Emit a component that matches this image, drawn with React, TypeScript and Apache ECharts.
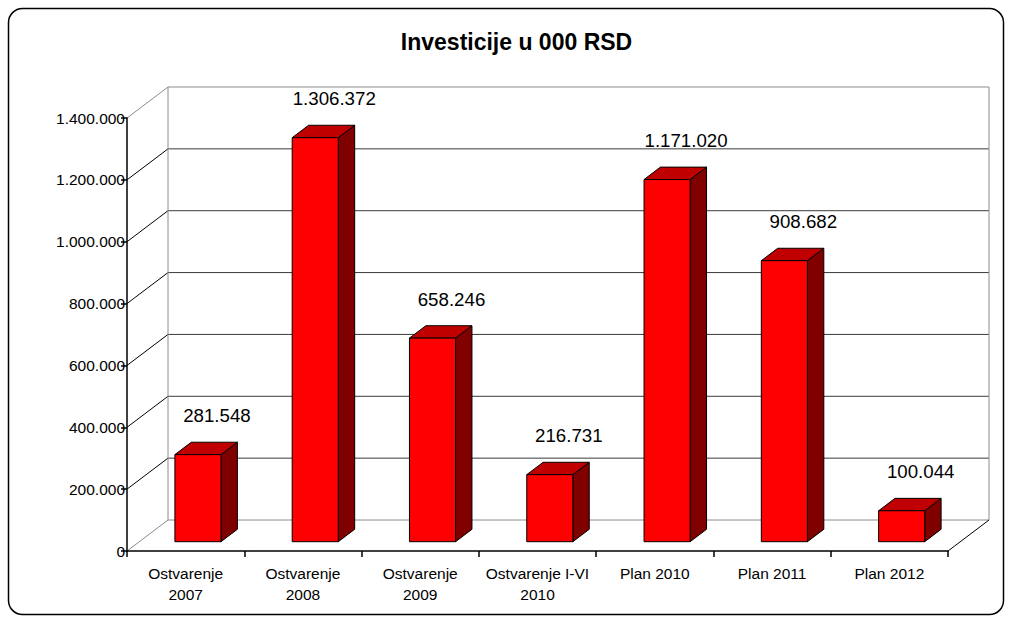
import React, { useEffect, useRef } from "react";
import * as echarts from "echarts";

const categories = [
  "Ostvarenje\n2007",
  "Ostvarenje\n2008",
  "Ostvarenje\n2009",
  "Ostvarenje I-VI\n2010",
  "Plan 2010",
  "Plan 2011",
  "Plan 2012",
];
const values = [281548, 1306372, 658246, 216731, 1171020, 908682, 100044];
const yTicks = [0, 200000, 400000, 600000, 800000, 1000000, 1200000, 1400000];
const titleText = "Investicije u 000 RSD";

const FONT = "'Liberation Sans', Arial, sans-serif";
const DX = 41;
const DY = -31;

function fmt(v: number): string {
  return String(v).replace(/\B(?=(\d{3})+(?!\d))/g, ".");
}

export default function App() {
  const ref = useRef<HTMLDivElement>(null);
  useEffect(() => {
    if (!ref.current) return;
    const chart = echarts.init(ref.current, undefined, { renderer: "svg" });

    const wallsRender = (params: any, api: any) => {
      const cs = params.coordSys;
      const L = cs.x;
      const R = cs.x + cs.width;
      const B = api.coord([0, 0])[1];
      const T = api.coord([0, yTicks[yTicks.length - 1]])[1];
      const children: any[] = [];
      const gray = "#8c8c8c";
      const dark = "#3a3a3a";
      yTicks.forEach((v, i) => {
        const y = api.coord([0, v])[1];
        const edge = i === 0 || i === yTicks.length - 1;
        children.push({
          type: "line",
          shape: { x1: L, y1: y, x2: L + DX, y2: y + DY },
          style: { stroke: edge ? gray : "#000", lineWidth: 1 },
        });
        children.push({
          type: "line",
          shape: { x1: L + DX, y1: y + DY, x2: R + DX, y2: y + DY },
          style: { stroke: edge ? gray : dark, lineWidth: 1 },
        });
      });
      children.push({
        type: "line",
        shape: { x1: L + DX, y1: T + DY, x2: L + DX, y2: B + DY },
        style: { stroke: gray, lineWidth: 1 },
      });
      children.push({
        type: "line",
        shape: { x1: R + DX, y1: T + DY, x2: R + DX, y2: B + DY },
        style: { stroke: gray, lineWidth: 1 },
      });
      children.push({
        type: "line",
        shape: { x1: R, y1: B, x2: R + DX, y2: B + DY },
        style: { stroke: "#000", lineWidth: 1 },
      });
      return { type: "group", children };
    };

    const barsRender = (params: any, api: any) => {
      const xi = api.value(0);
      const v = api.value(1);
      const top = api.coord([xi, v]);
      const base = api.coord([xi, 0]);
      const band = api.size([1, 0])[0];
      const w = band * 0.393;
      const fx = DX * 0.3;
      const fy = DY * 0.3;
      const bdx = DX * 0.4;
      const bdy = DY * 0.4;
      const x0 = top[0] - w / 2 + fx;
      const ty = top[1] + fy;
      const by = base[1] + fy;
      const stroke = { stroke: "#000", lineWidth: 1, lineJoin: "round" };
      return {
        type: "group",
        children: [
          {
            type: "polygon",
            shape: {
              points: [
                [x0 + w, ty],
                [x0 + w + bdx, ty + bdy],
                [x0 + w + bdx, by + bdy],
                [x0 + w, by],
              ],
            },
            style: { fill: "#800000", ...stroke },
          },
          {
            type: "polygon",
            shape: {
              points: [
                [x0, ty],
                [x0 + w, ty],
                [x0 + w + bdx, ty + bdy],
                [x0 + bdx, ty + bdy],
              ],
            },
            style: { fill: "#C00000", ...stroke },
          },
          {
            type: "rect",
            shape: { x: x0, y: ty, width: w, height: by - ty },
            style: { fill: "#FF0000", ...stroke },
          },
          {
            type: "text",
            style: {
              text: fmt(v),
              x: x0 + w / 2 + 19,
              y: ty - 39,
              align: "center",
              verticalAlign: "middle",
              fontSize: 18.7,
              fontFamily: FONT,
              fill: "#000",
            },
          },
        ],
      };
    };

    chart.setOption({
      animation: false,
      backgroundColor: "#fff",
      graphic: [
        {
          type: "rect",
          shape: { x: 8.5, y: 8.5, width: 995, height: 606, r: 14 },
          style: { fill: "none", stroke: "#000", lineWidth: 1.5 },
          z: 100,
        },
        {
          type: "text",
          x: 516.5,
          y: 42,
          style: {
            text: titleText,
            align: "center",
            verticalAlign: "middle",
            fontSize: 23,
            fontWeight: "bold",
            fontFamily: FONT,
            fill: "#000",
          },
        },
      ],
      grid: { left: 127, right: 64, top: 118, bottom: 67, containLabel: false },
      xAxis: {
        type: "category",
        data: categories,
        boundaryGap: true,
        axisLine: { show: true, lineStyle: { color: "#000", width: 1.5 } },
        axisTick: { show: true, length: 6, interval: 0, lineStyle: { color: "#000", width: 1.5 } },
        axisLabel: {
          interval: 0,
          margin: 12,
          fontSize: 15.5,
          lineHeight: 21,
          fontFamily: FONT,
          color: "#000",
          align: "center",
        },
        splitLine: { show: false },
        z: 5,
      },
      yAxis: {
        type: "value",
        min: 0,
        max: 1400000,
        interval: 200000,
        axisLine: { show: true, lineStyle: { color: "#000", width: 1.5 } },
        axisTick: { show: true, length: 6, lineStyle: { color: "#000", width: 1.5 } },
        axisLabel: {
          margin: 2,
          fontSize: 15.5,
          fontFamily: FONT,
          color: "#000",
          formatter: (v: number) => fmt(v),
        },
        splitLine: { show: false },
        z: 5,
      },
      series: [
        {
          type: "custom",
          name: "walls",
          renderItem: wallsRender,
          data: [[0, 0]],
          encode: { x: 0, y: 1 },
          clip: false,
          silent: true,
          z: 1,
        },
        {
          type: "custom",
          name: "Investicije",
          renderItem: barsRender,
          data: values.map((v, i) => [i, v]),
          encode: { x: 0, y: 1 },
          clip: false,
          z: 10,
        },
      ],
    });
    return () => chart.dispose();
  }, []);
  return (
    <div
      ref={ref}
      style={{ position: "fixed", left: 0, top: 0, width: 1012, height: 618 }}
    />
  );
}
